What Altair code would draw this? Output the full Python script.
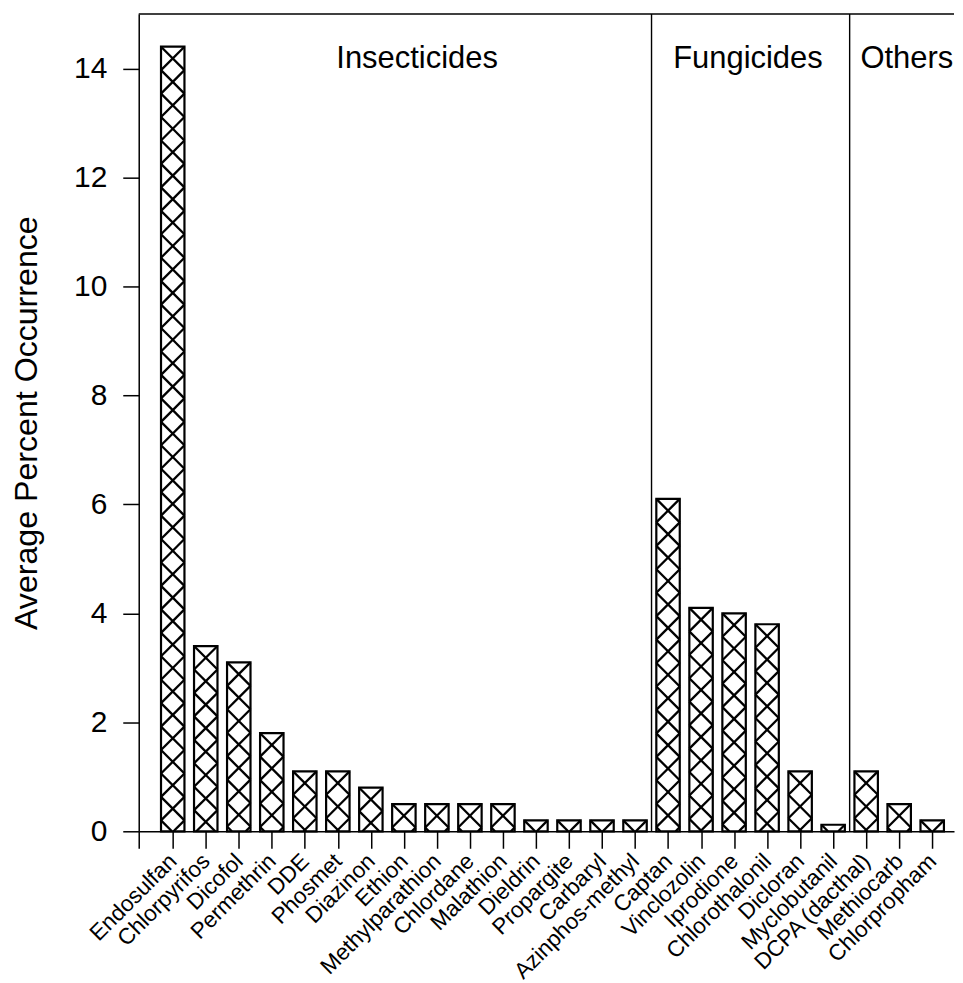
import altair as alt
import pandas as pd
import math

names = ["Endosulfan", "Chlorpyrifos", "Dicofol", "Permethrin", "DDE", "Phosmet",
         "Diazinon", "Ethion", "Methylparathion", "Chlordane", "Malathion", "Dieldrin",
         "Propargite", "Carbaryl", "Azinphos-methyl", "Captan", "Vinclozolin",
         "Iprodione", "Chlorothalonil", "Dicloran", "Myclobutanil", "DCPA (dacthal)",
         "Methiocarb", "Chlorpropham"]
values = [14.4, 3.4, 3.1, 1.8, 1.1, 1.1, 0.8, 0.5, 0.5, 0.5, 0.5, 0.2, 0.2, 0.2, 0.2,
          6.1, 4.1, 4.0, 3.8, 1.1, 0.12, 1.1, 0.5, 0.2]
groups = ["Insecticides"] * 15 + ["Fungicides"] * 6 + ["Others"] * 3
group_names = ["Insecticides", "Fungicides", "Others"]
y_ticks = [0, 2, 4, 6, 8, 10, 12, 14]

# layout
W, H = 817, 819
XMIN, XMAX = -1.03, -1.03 + 817 / 33.09
YMAX = 15
HALF = 0.355
SX = W / (XMAX - XMIN)
SY = H / YMAX

idx = list(range(len(names)))
bars = pd.DataFrame({"i": idx, "name": names, "value": values, "group": groups})
bars["x0"] = bars["i"] - HALF
bars["x1"] = bars["i"] + HALF

# cross-hatch segments clipped to each bar (45 degree lines, anchored at bar top corners)
segs = []
wpx = 2 * HALF * SX
step = wpx
for i, v in zip(idx, values):
    hpx = v * SY
    x0 = i - HALF
    kmin = -int(math.ceil(wpx / step)) - 1
    kmax = int(math.ceil((hpx + wpx) / step)) + 1
    for k in range(kmin, kmax + 1):
        a = k * step
        lo, hi = max(0.0, -a), min(wpx, hpx - a)
        if hi - lo > 0.3:
            segs.append((x0 + lo / SX, v - (lo + a) / SY, x0 + hi / SX, v - (hi + a) / SY))
        lo, hi = max(0.0, a - hpx), min(wpx, a)
        if hi - lo > 0.3:
            segs.append((x0 + lo / SX, v - (-lo + a) / SY, x0 + hi / SX, v - (-hi + a) / SY))
hatch = pd.DataFrame(segs, columns=["hx", "hy", "hx2", "hy2"])

div_x = [i + 0.5 for i in range(len(groups) - 1) if groups[i] != groups[i + 1]]
dividers = pd.DataFrame({"dx": div_x})
label_shift = {"Insecticides": 0.4, "Fungicides": -0.08, "Others": 0.23}
glab = []
for g in group_names:
    members = [i for i, gg in enumerate(groups) if gg == g]
    glab.append({"g": g, "gx": (members[0] + members[-1]) / 2 + label_shift[g]})
glabels = pd.DataFrame(glab)

xscale = alt.Scale(domain=[XMIN, XMAX], nice=False, zero=False)
yscale = alt.Scale(domain=[0, YMAX], nice=False, zero=True)

label_arr = "[" + ",".join("'" + n + "'" for n in names) + "]"
xaxis = alt.Axis(
    values=[XMIN] + idx,
    labelExpr=f"datum.value < 0 ? '' : {label_arr}[round(datum.value)]",
    labelAngle=-45, labelAlign="right", labelBaseline="middle",
    labelFontSize=22.5, labelPadding=9, tickSize=17, labelOverlap=False,
    labelFlush=False, title=None, grid=False,
)
yaxis = alt.Axis(
    values=y_ticks, tickSize=16, labelPadding=16, labelFontSize=30,
    title="Average Percent Occurrence", titleFontSize=32.2, titleFontWeight="normal",
    titlePadding=30, grid=False,
)

base_fill = alt.Chart(bars).mark_rect(fill="white", stroke=None).encode(
    x=alt.X("x0:Q", scale=xscale, axis=xaxis),
    x2="x1:Q",
    y=alt.Y("value:Q", scale=yscale, axis=yaxis),
    y2=alt.datum(0),
)

hatch_layer = alt.Chart(hatch).mark_rule(color="black", strokeWidth=2.3).encode(
    x=alt.X("hx:Q", scale=xscale, axis=xaxis),
    x2="hx2:Q",
    y=alt.Y("hy:Q", scale=yscale, axis=yaxis),
    y2="hy2:Q",
)

outline = alt.Chart(bars).mark_rect(fill="white", fillOpacity=0, stroke="black",
                                    strokeWidth=2.2).encode(
    x=alt.X("x0:Q", scale=xscale, axis=xaxis),
    x2="x1:Q",
    y=alt.Y("value:Q", scale=yscale, axis=yaxis),
    y2=alt.datum(0),
)

div_layer = alt.Chart(dividers).mark_rule(color="black", strokeWidth=1.4).encode(
    x=alt.X("dx:Q", scale=xscale, axis=xaxis),
    y=alt.datum(0, scale=yscale, axis=yaxis),
    y2=alt.datum(YMAX),
)

top_layer = alt.Chart(pd.DataFrame({"t": [YMAX]})).mark_rule(
    color="black", strokeWidth=1.5).encode(
    y=alt.Y("t:Q", scale=yscale, axis=yaxis),
    x=alt.datum(XMIN, scale=xscale, axis=xaxis),
    x2=alt.datum(XMAX),
)

text_layer = alt.Chart(glabels).mark_text(
    font="Liberation Sans", fontSize=31, color="black", baseline="alphabetic",
    align="center", dy=54,
).encode(
    x=alt.X("gx:Q", scale=xscale, axis=xaxis),
    y=alt.datum(YMAX, scale=yscale, axis=yaxis),
    text="g:N",
)

chart = alt.layer(base_fill, hatch_layer, outline, div_layer, top_layer, text_layer).properties(
    width=W, height=H,
    padding={"left": 2, "top": 4, "right": 0, "bottom": 0},
).configure_view(stroke=None).configure_axis(
    domainColor="black", domainWidth=1.5, tickColor="black", tickWidth=1.5,
    labelColor="black", titleColor="black", labelFont="Liberation Sans",
    titleFont="Liberation Sans",
)

chart.save("out.html", embed_options={"renderer": "svg", "actions": False})
